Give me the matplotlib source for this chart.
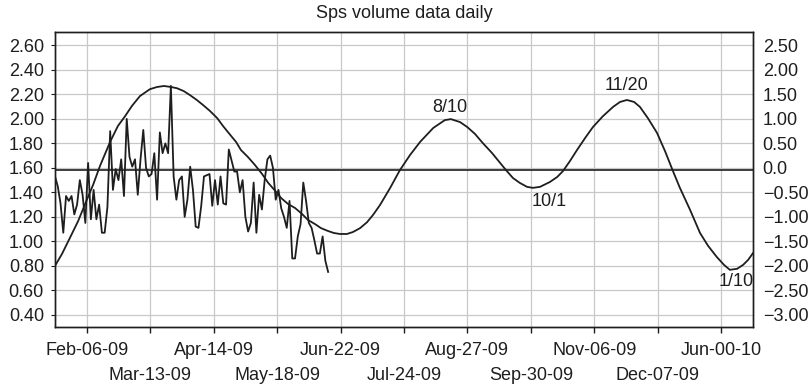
import matplotlib.pyplot as plt
import numpy as np

# daily volume (left axis), one value per trading day
volume = [1.53, 1.45, 1.31, 1.07, 1.37, 1.33, 1.37, 1.22, 1.30, 1.50,
          1.38, 1.15, 1.64, 1.18, 1.42, 1.18, 1.30, 1.07, 1.07, 1.28,
          1.90, 1.42, 1.59, 1.50, 1.67, 1.37, 2.00, 1.69, 1.61, 1.67,
          1.38, 1.67, 1.91, 1.60, 1.53, 1.55, 1.72, 1.34, 1.89, 1.72,
          1.80, 1.72, 2.27, 1.53, 1.34, 1.50, 1.53, 1.20, 1.34, 1.61,
          1.42, 1.12, 1.11, 1.29, 1.53, 1.54, 1.55, 1.29, 1.50, 1.30,
          1.53, 1.31, 1.30, 1.75, 1.66, 1.57, 1.57, 1.40, 1.50, 1.20,
          1.08, 1.15, 1.48, 1.07, 1.38, 1.26, 1.50, 1.67, 1.70, 1.60,
          1.34, 1.42, 1.27, 1.20, 1.11, 1.33, 0.86, 0.86, 1.04, 1.14,
          1.48, 1.33, 1.15, 1.11, 1.01, 0.90, 0.90, 1.04, 0.84, 0.75]

# cycle curve (right axis): trading-day position, value
cycle_day = [0, 2.5, 5.4, 8.4, 10.9, 13.8, 16.3, 20.0, 22.8, 25.4,
             27.9, 30.8, 34.4, 37.0, 39.5, 42.0, 44.2, 46.7, 48.9, 51.4,
             53.6, 56.1, 58.8, 60.9, 63.5, 65.7, 67.4, 69.9, 72.4, 75.1,
             77.3, 79.8, 82.0, 84.5, 87.0, 89.5, 91.7, 94.3, 96.4, 99.0,
             101.1, 103.3, 105.8, 108.0, 110.6, 113.1, 115.3, 117.8, 121.5, 125.0,
             128.7, 132.4, 137.1, 141.3, 143.5, 146.8, 149.4, 152.2, 155.1, 158.4,
             161.3, 163.8, 166.0, 168.5, 171.1, 173.2, 175.8, 179.4, 182.0, 184.1,
             186.7, 189.2, 192.2, 195.0, 198.6, 202.3, 204.8, 207.3, 209.9, 212.0,
             214.9, 218.2, 221.1, 224.0, 226.5, 230.2, 233.8, 236.7, 239.9, 242.5,
             244.6, 247.2, 249.4, 251.2, 253.0]
cycle_val = [-2.00, -1.76, -1.43, -1.085, -0.74, -0.35, 0.035, 0.53, 0.85, 1.05,
             1.26, 1.46, 1.60, 1.645, 1.665, 1.645, 1.62, 1.56, 1.48, 1.38,
             1.28, 1.16, 1.01, 0.85, 0.67, 0.52, 0.36, 0.22, 0.06, -0.13,
             -0.31, -0.47, -0.62, -0.74, -0.82, -0.94, -1.065, -1.15, -1.23, -1.29,
             -1.33, -1.35, -1.35, -1.31, -1.23, -1.11, -0.96, -0.76, -0.41, -0.05,
             0.26, 0.53, 0.81, 0.97, 0.99, 0.93, 0.83, 0.69, 0.50, 0.30,
             0.10, -0.07, -0.21, -0.31, -0.39, -0.41, -0.39, -0.29, -0.19, -0.07,
             0.14, 0.36, 0.61, 0.83, 1.05, 1.24, 1.34, 1.38, 1.34, 1.24,
             1.01, 0.71, 0.34, -0.07, -0.41, -0.86, -1.33, -1.59, -1.82, -1.98,
             -2.08, -2.06, -1.98, -1.88, -1.74]

zero_level = 1.58

# turning point labels
turn_text = ["8/10", "10/1", "11/20", "1/10"]
turn_day = [143.0, 179.1, 207.3, 247.0]
turn_val = [1.22, -0.69, 1.665, -2.32]

date_labels = ["Feb-06-09", "Mar-13-09", "Apr-14-09", "May-18-09", "Jun-22-09",
               "Jul-24-09", "Aug-27-09", "Sep-30-09", "Nov-06-09", "Dec-07-09",
               "Jun-00-10"]
left_ticks = [0.40, 0.60, 0.80, 1.00, 1.20, 1.40, 1.60, 1.80, 2.00, 2.20, 2.40, 2.60]
right_ticks = [2.5, 2.0, 1.5, 1.0, 0.5, 0.0, -0.5, -1.0, -1.5, -2.0, -2.5, -3.0]
right_labels = ["2.50", "2.00", "1.50", "1.00", "0.50", "0.0", "\u22120.50",
                "\u22121.00", "\u22121.50", "\u22122.00", "\u22122.50", "\u22123.00"]

plt.rcParams['font.family'] = ['Liberation Sans', 'DejaVu Sans']
plt.rcParams['font.size'] = 13
ink = '#1e1e1e'

fig = plt.figure(figsize=(8.1, 3.88), dpi=100)
ax = fig.add_axes([55 / 810, 1 - 327 / 388, 698 / 810, 295 / 388])
ax2 = ax.twinx()

step = 23
ticks = [step / 2 + step * i for i in range(len(date_labels))]

ax.set_xlim(0, step * len(date_labels))
ax.set_ylim(0.30, 2.71)
ax2.set_ylim(-3.245, 2.765)

ax.grid(True, which='both', axis='x', color='#c8c8c8', lw=0.9)
ax.grid(True, axis='y', color='#c8c8c8', lw=0.9)
ax.set_axisbelow(True)
ax.plot(np.arange(len(volume)), volume, color=ink, lw=1.3)
ax.axhline(zero_level, color=ink, lw=1.2)
ax2.plot(cycle_day, cycle_val, color=ink, lw=1.3)
for t, d, v in zip(turn_text, turn_day, turn_val):
    ax2.text(d, v, t, ha='center', va='center', color=ink)

# two rows of date labels: upper row on major ticks, lower row on minor ticks
ax.set_xticks(ticks[0::2])
ax.set_xticklabels(date_labels[0::2])
ax.set_xticks(ticks[1::2], minor=True)
ax.set_xticklabels(date_labels[1::2], minor=True)
ax.set_yticks(left_ticks)
ax.set_yticklabels(["%.2f" % v for v in left_ticks])
ax2.set_yticks(right_ticks)
ax2.set_yticklabels(right_labels)

ax.tick_params(axis='x', which='major', length=4, width=1, pad=7, colors=ink)
ax.tick_params(axis='x', which='minor', length=4, width=1, pad=25, colors=ink)
ax.tick_params(axis='y', length=3, width=0.8, pad=5, colors=ink)
ax2.tick_params(axis='y', length=0, pad=7, colors=ink)
for a in (ax, ax2):
    for s in a.spines.values():
        s.set_color(ink)
        s.set_linewidth(1.0)

ax.set_title("Sps volume data daily", color=ink, fontsize=13, pad=10)

fig.savefig("out.png", dpi=100)
